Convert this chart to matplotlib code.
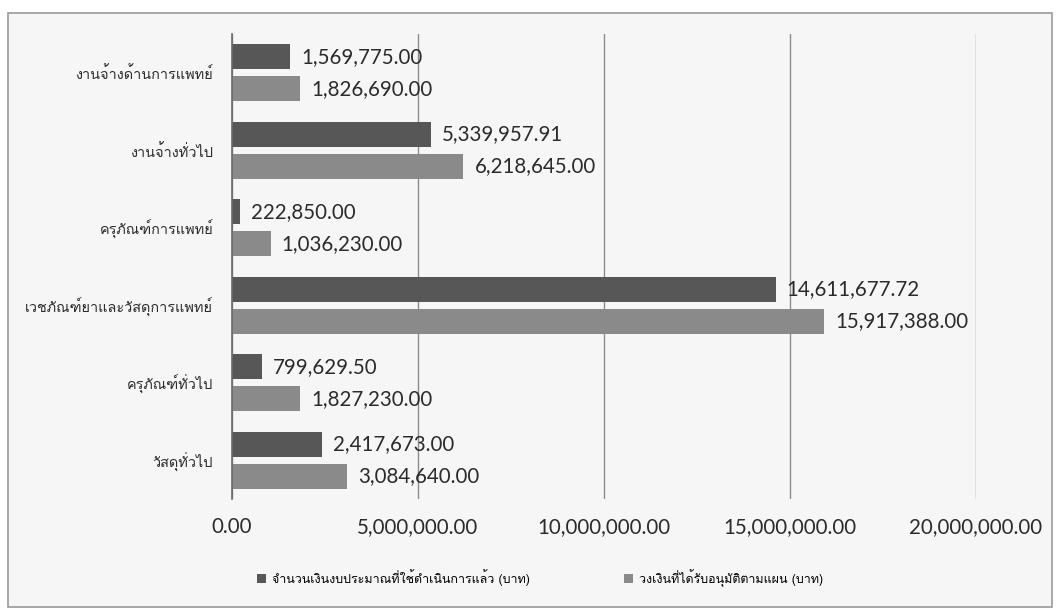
import matplotlib
matplotlib.use("Agg")
import matplotlib.pyplot as plt
from matplotlib import font_manager
from matplotlib.patches import Rectangle
from matplotlib.ft2font import FT2Font
import numpy as np

categories = [
    "งานจ้างด้านการแพทย์",
    "งานจ้างทั่วไป",
    "ครุภัณฑ์การแพทย์",
    "เวชภัณฑ์ยาและวัสดุการแพทย์",
    "ครุภัณฑ์ทั่วไป",
    "วัสดุทั่วไป",
]
spent = [1569775.00, 5339957.91, 222850.00, 14611677.72, 799629.50, 2417673.00]
approved = [1826690.00, 6218645.00, 1036230.00, 15917388.00, 1827230.00, 3084640.00]
series_names = [
    "จำนวนเงินงบประมาณที่ใช้ดำเนินการแล้ว (บาท)",
    "วงเงินที่ได้รับอนุมัติตามแผน (บาท)",
]
x_ticks = [0, 5000000, 10000000, 15000000, 20000000]


def find_thai_font():
    # look for any installed font that has Thai glyphs
    for f in font_manager.fontManager.ttflist:
        try:
            ft = FT2Font(f.fname)
            if ft.get_char_index(0x0E01) and ft.get_char_index(0x0E27):
                return f.name
        except Exception:
            continue
    return None


thai = find_thai_font()
families = ([thai] if thai else []) + ["DejaVu Sans"]
num_font = ["Lato", "DejaVu Sans"]

dark = "#575757"
light = "#8a8a8a"
txt = "#2b2b2b"

fig = plt.figure(figsize=(10.6, 6.11), dpi=100)
fig.patch.set_facecolor("white")
fig.patches.append(Rectangle((8 / 1060, 1 - 607 / 611), 1044 / 1060, 594 / 611,
                             transform=fig.transFigure, facecolor="#f6f6f6",
                             edgecolor="#9a9a9a", linewidth=1.2, zorder=-5))

ax = fig.add_axes([232 / 1060, 1 - 499 / 611, 744 / 1060, 465 / 611])
ax.set_zorder(2)
ax.set_facecolor("none")

y = np.arange(len(categories))
h = 0.32
ax.barh(y - 0.205, spent, height=h, color=dark, label=series_names[0], zorder=3)
ax.barh(y + 0.205, approved, height=h, color=light, label=series_names[1], zorder=3)

for i in range(len(categories)):
    ax.annotate(f"{spent[i]:,.2f}", (spent[i], y[i] - 0.205), xytext=(8, 0),
                textcoords="offset points", va="center", ha="left",
                fontsize=14.8, family=num_font, color=txt)
    ax.annotate(f"{approved[i]:,.2f}", (approved[i], y[i] + 0.205), xytext=(8, 0),
                textcoords="offset points", va="center", ha="left",
                fontsize=14.8, family=num_font, color=txt)

ax.set_xlim(0, 20000000)
ax.set_ylim(len(categories) - 0.5, -0.5)
ax.set_xticks(x_ticks)
ax.set_xticklabels([f"{v:,.2f}" for v in x_ticks], fontsize=14.8, family=num_font, color=txt)
ax.set_yticks(y)
ax.set_yticklabels(categories, fontsize=10.4, family=families, color=txt)
ax.tick_params(axis="x", length=0, pad=13)
ax.tick_params(axis="y", length=0, pad=13.5)
ax.grid(axis="x", color="#8c8c8c", linewidth=1, zorder=1)
ax.set_axisbelow(True)
for s in ["top", "right", "bottom"]:
    ax.spines[s].set_visible(False)
ax.spines["left"].set_color("#6a6a6a")
ax.spines["left"].set_linewidth(1.2)
ax.spines["left"].set_zorder(4)

fig.legend(loc="center", bbox_to_anchor=(540 / 1060, 1 - 578 / 611), ncol=2,
           frameon=False, prop={"family": families, "size": 9},
           handlelength=0.7, handleheight=0.7, columnspacing=7.5, handletextpad=0.5)

fig.savefig("out.png", dpi=100)
